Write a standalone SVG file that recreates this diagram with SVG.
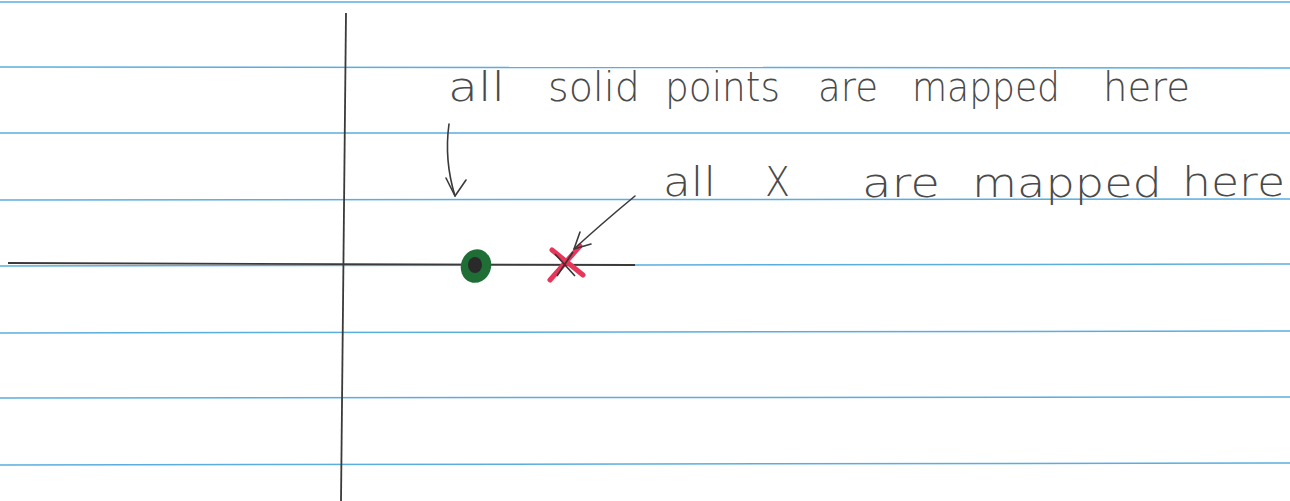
<svg xmlns="http://www.w3.org/2000/svg" width="1290" height="501" viewBox="0 0 1290 501">
<style>
.rule{stroke:#5aaede;stroke-width:1.5;fill:none}
.axis{stroke:#3a3a3a;stroke-width:1.8;fill:none}
.hw{font-family:"DejaVu Sans","Liberation Sans",sans-serif;font-size:40px;fill:#4a4a4a;font-weight:300}
.arr{stroke:#3a3a3a;stroke-width:1.6;fill:none;stroke-linecap:round;stroke-linejoin:round}
</style>
<rect width="1290" height="501" fill="#ffffff"/>
<g id="paper">
<line class="rule" x1="0" y1="2" x2="1290" y2="2"/>
<line class="rule" x1="0" y1="67" x2="1290" y2="68"/>
<line class="rule" x1="0" y1="133" x2="1290" y2="133"/>
<line class="rule" x1="0" y1="200" x2="1290" y2="199"/>
<line class="rule" x1="0" y1="266" x2="1290" y2="264"/>
<line class="rule" x1="0" y1="333" x2="1290" y2="331"/>
<line class="rule" x1="0" y1="398" x2="1290" y2="397"/>
<line class="rule" x1="0" y1="465" x2="1290" y2="463"/>
</g>
<g id="axes">
<line class="axis" x1="346" y1="13" x2="341" y2="501"/>
<line class="axis" x1="8" y1="263" x2="635" y2="265"/>
</g>
<g id="solid-point">
<ellipse cx="476" cy="266" rx="15" ry="17" fill="#1f6e36" transform="rotate(20 476 266)"/>
<ellipse cx="475" cy="265" rx="7" ry="8" fill="#2a2a2a"/>
</g>
<g id="x-point">
<line x1="550" y1="280" x2="580" y2="246" stroke="#e8355a" stroke-width="5" stroke-linecap="round"/>
<line x1="552" y1="250" x2="583" y2="275" stroke="#e8355a" stroke-width="5" stroke-linecap="round"/>
<line x1="555" y1="254" x2="575" y2="276" stroke="#333" stroke-width="1.6"/>
<line x1="557" y1="276" x2="573" y2="252" stroke="#333" stroke-width="1.6"/>
</g>
<g id="label-solid">
<text class="hw" x="448" y="101" textLength="57" lengthAdjust="spacingAndGlyphs">all</text>
<text class="hw" x="548" y="101" textLength="92" lengthAdjust="spacingAndGlyphs">solid</text>
<text class="hw" x="665" y="101" textLength="115" lengthAdjust="spacingAndGlyphs">points</text>
<text class="hw" x="818" y="101" textLength="60" lengthAdjust="spacingAndGlyphs">are</text>
<text class="hw" x="912" y="101" textLength="148" lengthAdjust="spacingAndGlyphs">mapped</text>
<text class="hw" x="1103" y="101" textLength="87" lengthAdjust="spacingAndGlyphs">here</text>
</g>
<g id="label-x">
<text class="hw" x="663" y="196" textLength="53" lengthAdjust="spacingAndGlyphs">all</text>
<text class="hw" x="765" y="196" textLength="25" lengthAdjust="spacingAndGlyphs">X</text>
<text class="hw" x="862" y="197" textLength="78" lengthAdjust="spacingAndGlyphs">are</text>
<text class="hw" x="972" y="197" textLength="190" lengthAdjust="spacingAndGlyphs">mapped</text>
<text class="hw" x="1182" y="196" textLength="103" lengthAdjust="spacingAndGlyphs">here</text>
</g>
<g id="connectors">
<path class="arr" d="M449 124 Q444 160 455 196"/>
<path class="arr" d="M446 178 L455 196 L466 180"/>
<path class="arr" d="M635 196 Q600 225 574 249"/>
<path class="arr" d="M580 232 L574 249 L591 244"/>
</g>
</svg>
